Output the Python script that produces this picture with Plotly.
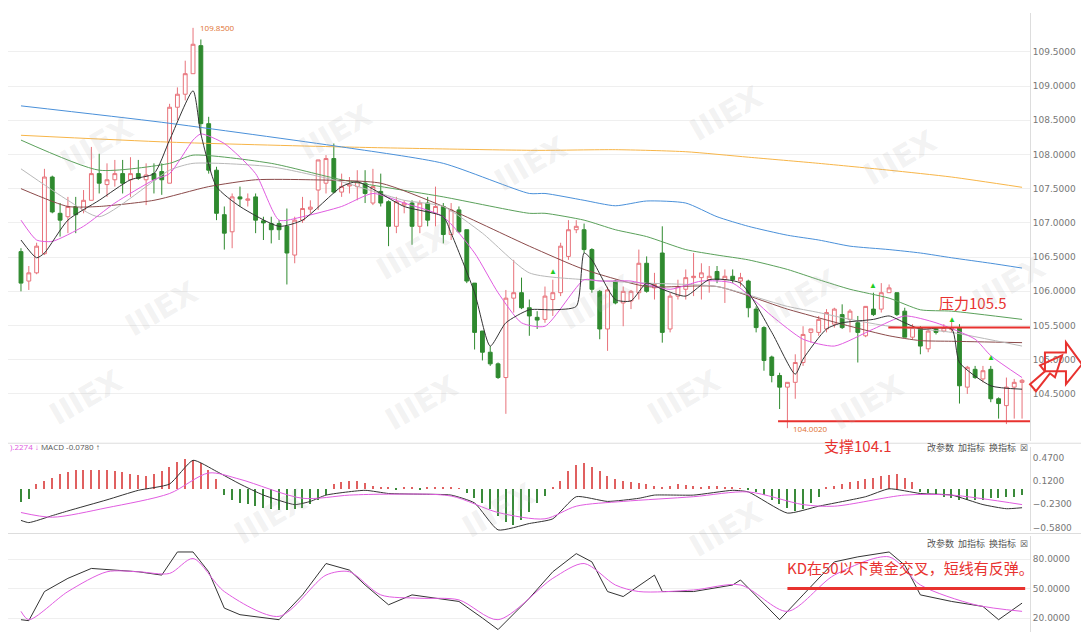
import plotly.graph_objects as go

# ---------------- data ----------------
candles = [  # (open, high, low, close)
(106.58,106.63,106.00,106.12),(106.15,106.37,106.02,106.27),(106.27,106.71,106.25,106.66),(106.55,107.79,106.53,107.67),
(107.67,107.69,107.14,107.16),(107.14,107.29,106.80,107.04),(107.09,107.38,106.85,107.24),(107.24,107.38,106.85,107.12),
(107.19,107.48,107.14,107.33),(107.33,108.11,107.33,107.72),(107.72,108.01,107.43,107.58),(107.56,107.87,107.38,107.63),
(107.63,107.92,107.53,107.72),(107.72,107.92,107.43,107.58),(107.63,107.96,107.38,107.72),(107.72,107.92,107.63,107.65),
(107.63,107.87,107.26,107.70),(107.72,107.87,107.43,107.63),(107.75,107.87,107.41,107.63),(107.58,108.74,107.58,108.69),
(108.69,108.98,108.50,108.88),(108.88,109.37,108.79,109.18),(109.18,109.85,109.18,109.61),(109.59,109.68,108.30,108.45),
(108.45,108.55,107.72,107.77),(107.77,107.82,107.04,107.14),(107.12,107.24,106.61,106.85),(106.87,107.43,106.63,107.38),
(107.38,107.53,107.24,107.35),(107.33,107.43,107.24,107.35),(107.38,107.43,106.85,107.04),(107.03,107.09,106.75,107.00),
(106.99,107.09,106.70,106.90),(106.99,107.04,106.75,106.90),(106.95,107.21,106.10,106.56),(106.53,107.09,106.41,107.04),
(107.04,107.38,107.00,107.21),(107.20,107.33,107.14,107.23),(107.48,107.92,107.19,107.92),(107.58,107.99,107.43,107.94),
(107.94,108.16,107.43,107.45),(107.45,107.72,107.38,107.53),(107.54,107.67,107.43,107.56),(107.53,107.77,107.33,107.60),
(107.58,107.77,107.29,107.43),(107.29,107.79,107.26,107.53),(107.46,107.72,107.24,107.29),(107.31,107.33,106.66,106.95),
(106.95,107.38,106.85,107.31),(107.26,107.33,107.14,107.29),(107.29,107.33,106.68,106.95),(106.95,107.33,106.85,107.29),
(107.29,107.38,106.95,107.04),(107.14,107.53,106.95,107.24),(107.24,107.29,106.70,106.83),(106.83,107.29,106.75,107.19),
(107.19,107.24,106.85,106.87),(106.90,106.90,106.12,106.15),(106.12,106.12,105.15,105.40),(105.42,105.42,104.99,105.11),
(105.11,105.20,104.91,104.94),(104.94,104.96,104.72,104.74),(104.74,106.02,104.21,105.90),(105.90,106.46,105.69,105.98),
(105.98,106.20,105.74,105.76),(105.76,105.88,105.35,105.64),(105.62,105.71,105.45,105.58),(105.59,106.07,105.54,105.93),
(105.88,106.17,105.64,105.98),(105.98,106.71,105.93,106.66),(106.51,107.04,106.46,106.90),(106.90,107.04,106.85,106.95),
(106.90,106.99,106.56,106.61),(106.61,106.63,105.98,106.03),(106.00,106.02,105.30,105.45),(105.45,106.07,105.13,106.02),
(106.15,106.17,105.81,105.83),(105.83,106.07,105.49,106.00),(105.86,106.02,105.74,106.00),(105.98,106.61,105.88,106.41),
(106.41,106.51,105.98,106.00),(106.05,106.27,105.88,106.10),(106.56,106.95,105.25,105.40),(105.45,105.98,105.40,105.93),
(105.93,106.17,105.88,106.07),(106.03,106.32,105.88,106.20),(106.20,106.56,105.93,106.22),(106.20,106.41,105.88,106.27),
(106.17,106.37,105.98,106.22),(106.29,106.37,106.12,106.17),(106.17,106.32,105.83,106.22),(106.22,106.32,106.12,106.17),
(106.15,106.27,106.07,106.20),(106.15,106.17,105.62,105.76),(105.74,105.78,105.40,105.47),(105.47,105.49,104.84,104.99),
(105.04,105.06,104.67,104.77),(104.77,104.81,104.28,104.60),(104.60,104.67,104.00,104.67),(104.67,105.08,104.43,104.96),
(104.96,105.49,104.91,105.37),(105.40,105.45,105.25,105.45),(105.40,105.64,105.35,105.59),(105.45,105.74,105.40,105.69),
(105.52,105.76,105.47,105.74),(105.66,105.81,105.45,105.47),(105.59,105.74,105.40,105.71),(105.54,105.64,104.96,105.40),
(105.35,105.78,105.33,105.78),(105.74,105.98,105.64,105.66),(105.74,106.12,105.69,105.98),(105.98,106.10,105.98,106.05),
(105.98,105.98,105.64,105.66),(105.71,105.76,105.33,105.33),(105.33,105.52,105.30,105.47),(105.47,105.49,105.08,105.20),
(105.16,105.45,105.11,105.42),(105.45,105.47,105.37,105.40),(105.42,105.52,105.40,105.47),(105.44,105.59,105.40,105.46),
(105.47,105.52,104.36,104.62),(104.60,104.91,104.50,104.89),(104.86,104.91,104.72,104.74),(104.72,104.91,104.67,104.84),
(104.86,104.91,104.38,104.43),(104.43,104.45,104.14,104.36),(104.33,104.74,104.06,104.60),(104.60,104.72,104.14,104.67),
(104.67,104.72,104.14,104.70),
]
idx = list(range(1, len(candles) + 1))
opens = [c[0] for c in candles]; highs = [c[1] for c in candles]
lows = [c[2] for c in candles]; closes = [c[3] for c in candles]

ma5_x = [1,3,4,7,11,15,18,20,23,24,26,29,34,37,42,44,50,55,56,59,61,63,66,69,72,73,74,77,79,81,83,86,89,93,97,100,101,104,106,110,112,114,116,120,121,125,129]
ma5_y = [106.75,106.49,106.56,107.04,107.33,107.63,107.72,108.21,108.93,108.30,107.53,107.24,106.95,107.04,107.53,107.60,107.24,107.09,106.85,105.98,105.20,105.54,105.73,105.73,105.78,106.56,106.46,105.88,105.86,106.12,106.03,105.93,106.17,106.12,105.40,104.79,105.01,105.45,105.54,105.59,105.64,105.54,105.45,105.45,104.96,104.62,104.57]
ma10_x = [1,3,5,9,13,18,20,23,24,27,31,34,37,42,46,50,55,59,62,65,68,73,75,79,84,88,92,97,101,105,110,114,118,123,125,129]
ma10_y = [107.04,106.75,106.73,106.95,107.29,107.63,107.72,108.21,108.30,108.16,107.72,107.04,107.09,107.24,107.43,107.29,107.09,106.56,105.98,105.54,105.49,106.17,106.15,106.15,106.03,106.15,106.12,105.64,105.30,105.20,105.45,105.64,105.54,105.30,105.06,104.74]
ma20_x = [1,7,11,20,23,33,42,50,55,60,66,73,81,90,99,103,107,112,116,120,129]
ma20_y = [107.79,107.33,107.09,107.77,107.87,107.82,107.60,107.33,107.24,106.85,106.27,106.17,106.12,106.07,105.78,105.69,105.59,105.49,105.45,105.40,105.20]
ma30_x = [1,7,11,18,25,31,38,47,55,66,73,81,90,99,107,112,116,120,129]
ma30_y = [107.50,107.24,107.24,107.33,107.53,107.63,107.63,107.58,107.24,106.66,106.32,106.07,106.07,105.74,105.49,105.35,105.28,105.27,105.25]
ma60_x = [1,11,20,23,33,42,55,66,68,73,77,81,86,90,94,99,103,107,112,116,120,129]
ma60_y = [108.21,107.77,107.87,107.99,107.87,107.63,107.38,107.14,107.14,107.04,106.90,106.80,106.61,106.53,106.46,106.32,106.17,106.03,105.90,105.73,105.71,105.59]
ma120_x = [1,19,42,55,66,68,73,77,81,86,90,94,99,103,107,112,116,120,125,129]
ma120_y = [108.71,108.47,108.11,107.87,107.43,107.43,107.33,107.25,107.32,107.29,107.09,106.95,106.82,106.75,106.66,106.61,106.56,106.49,106.41,106.34]
ma200_x = [1,20,42,67,77,86,94,103,112,120,129]
ma200_y = [108.28,108.18,108.11,108.06,108.07,108.04,107.96,107.87,107.77,107.67,107.52]

dif_x = [1,2,5,7,12,16,20,23,26,29,32,36,38,40,45,48,52,56,59,62,66,69,72,76,80,82,87,92,94,99,103,109,112,116,120,124,127,129]
dif_y = [-0.473,-0.506,-0.401,-0.33,-0.163,-0.02,0.075,0.432,0.265,0.075,-0.092,-0.235,-0.187,-0.092,-0.02,-0.068,-0.078,-0.092,-0.211,-0.616,-0.52,-0.449,-0.116,-0.187,-0.14,-0.092,-0.092,-0.02,-0.044,-0.363,-0.259,-0.116,0.003,-0.068,-0.092,-0.235,-0.297,-0.282]
dea_x = [1,5,12,20,25,29,37,43,48,56,62,68,72,78,87,94,101,105,114,120,129]
dea_y = [-0.354,-0.425,-0.282,-0.068,0.241,0.146,-0.14,-0.092,-0.078,-0.106,-0.354,-0.449,-0.259,-0.187,-0.116,-0.044,-0.235,-0.259,-0.092,-0.092,-0.235]
macd_hist = [-0.2,-0.15,
 0.076,0.124,0.171,0.219,0.252,0.281,0.281,0.281,0.281,0.281,0.267,0.252,0.229,0.21,0.195,0.219,0.267,0.338,0.41,0.457,0.433,0.386,0.29,0.148,
 -0.09,-0.162,-0.21,-0.233,-0.257,-0.281,-0.305,-0.314,-0.314,-0.305,-0.281,-0.233,-0.162,-0.09,
 0.071,0.1,0.114,0.114,0.086,0.052,0.029,
 0.02,-0.02,0.015,0.02,-0.015,0.02,0.025,0.02,0.015,0.01,
 -0.067,-0.138,-0.21,-0.305,-0.4,-0.495,-0.543,-0.471,-0.352,-0.21,
 -0.1,0.03,
 0.124,0.267,0.362,0.386,0.338,0.267,0.195,0.148,0.124,0.1,0.086,0.076,0.052,
 0.03,0.05,0.08,0.06,0.04,0.03,0.05,0.04,0.03,0.02,0.01,-0.02,-0.04,
 -0.09,-0.162,-0.233,-0.281,-0.329,-0.305,-0.21,-0.114,
 0.029,0.052,0.076,0.1,0.124,0.148,0.171,0.195,0.21,0.219,0.171,0.1,
 -0.043,-0.067,-0.09,-0.114,-0.138,-0.162,-0.162,-0.162,-0.162,-0.138,-0.138,-0.114,-0.114,-0.09]

k_x = [1,2,4,7,10,13,16,19,21,23,25,27,29,34,37,40,43,45,48,51,54,57,60,62,66,69,72,74,76,78,82,83,87,92,93,98,101,105,108,112,114,116,120,124,126,129]
k_y = [18.3,17.3,47.0,60.5,70.6,68.9,67.2,63.8,87.4,87.4,67.2,30.1,23.4,18.3,43.6,75.6,68.9,53.7,33.5,43.6,40.2,36.9,20.0,8.2,40.2,67.2,85.7,77.3,47.0,41.9,63.8,47.0,47.0,53.7,58.8,18.3,43.6,77.3,82.4,87.4,73.9,43.6,36.9,31.8,18.3,35.2]
d_x = [1,2,7,12,16,20,23,27,34,40,43,47,52,57,62,69,73,77,80,87,93,99,105,112,116,123,129]
d_y = [26.8,18.3,47.0,67.2,67.2,65.5,80.7,47.0,21.7,63.8,67.2,43.6,40.2,38.5,18.3,60.5,75.6,53.7,47.0,48.6,53.7,26.8,63.8,82.4,53.7,33.5,26.8]

price_ticks = [104.5,105.0,105.5,106.0,106.5,107.0,107.5,108.0,108.5,109.0,109.5]
macd_ticks = [0.47,0.12,-0.23,-0.58]
kd_ticks = [20,50,80]
resistance = 105.47
support = 104.1

# ---------------- figure ----------------
fig = go.Figure()
fig.add_trace(go.Candlestick(
    x=idx, open=opens, high=highs, low=lows, close=closes,
    increasing=dict(line=dict(color="#e8727a", width=1), fillcolor="#ffffff"),
    decreasing=dict(line=dict(color="#2f8a2f", width=1), fillcolor="#2f8a2f"),
    whiskerwidth=0, xaxis="x", yaxis="y", showlegend=False, hoverinfo="skip"))

for xs, ys, col in [(ma200_x, ma200_y, "#f7b548"), (ma120_x, ma120_y, "#4a90d9"),
                    (ma60_x, ma60_y, "#5aa05a"), (ma30_x, ma30_y, "#8b4a4a"),
                    (ma20_x, ma20_y, "#b8b8b8"), (ma10_x, ma10_y, "#e05ce0"),
                    (ma5_x, ma5_y, "#333333")]:
    fig.add_trace(go.Scatter(x=xs, y=ys, mode="lines", line=dict(color=col, width=1, shape="spline", smoothing=0.6),
                             xaxis="x", yaxis="y", showlegend=False, hoverinfo="skip"))

fig.add_trace(go.Bar(x=idx, y=macd_hist, width=0.18,
                     marker=dict(color=["#e06060" if v >= 0 else "#3a8a3a" for v in macd_hist], line=dict(width=0)),
                     xaxis="x2", yaxis="y2", showlegend=False, hoverinfo="skip"))
fig.add_trace(go.Scatter(x=dif_x, y=dif_y, mode="lines", line=dict(color="#333", width=1, shape="spline", smoothing=0.5),
                         xaxis="x2", yaxis="y2", showlegend=False))
fig.add_trace(go.Scatter(x=dea_x, y=dea_y, mode="lines", line=dict(color="#e05ce0", width=1, shape="spline", smoothing=0.8),
                         xaxis="x2", yaxis="y2", showlegend=False))
fig.add_trace(go.Scatter(x=k_x, y=k_y, mode="lines", line=dict(color="#333", width=1),
                         xaxis="x3", yaxis="y3", showlegend=False))
fig.add_trace(go.Scatter(x=d_x, y=d_y, mode="lines", line=dict(color="#e05ce0", width=1, shape="spline", smoothing=0.8),
                         xaxis="x3", yaxis="y3", showlegend=False))

xr = [-0.66, 130.02]
ax_common = dict(range=xr, showgrid=False, showticklabels=False, zeroline=False, domain=[0.0, 0.9385],
                 showline=False, fixedrange=True)
tickfont = dict(family="DejaVu Sans", size=9, color="#777")
fig.update_layout(
    width=1089, height=639, margin=dict(l=0, r=0, t=5, b=5),
    paper_bgcolor="white", plot_bgcolor="white", bargap=0,
    xaxis=dict(**ax_common, anchor="y", rangeslider=dict(visible=False)),
    xaxis2=dict(**ax_common, anchor="y2", matches="x"),
    xaxis3=dict(**ax_common, anchor="y3", matches="x"),
    yaxis=dict(domain=[0.320, 1.0], range=[103.817, 110.067], side="right", tickvals=price_ticks,
               ticktext=[f"{v:.4f}" for v in price_ticks], tickfont=tickfont, gridcolor="#efefef",
               zeroline=False, showline=True, linecolor="#dddddd", ticks="", anchor="x"),
    yaxis2=dict(domain=[0.176, 0.310], range=[-0.637, 0.632], side="right", tickvals=macd_ticks,
                ticktext=[f"{v:.4f}".replace("-", "−") for v in macd_ticks], tickfont=tickfont,
                showgrid=False, zeroline=False, showline=True, linecolor="#dddddd", anchor="x2"),
    yaxis3=dict(domain=[0.016, 0.169], range=[5.8, 104.0], side="right", tickvals=kd_ticks,
                ticktext=[f"{v:.4f}" for v in kd_ticks], tickfont=tickfont, gridcolor="#efefef",
                zeroline=False, showline=True, linecolor="#dddddd", anchor="x3"),
)

shapes = []
for yv in [0.316, 0.1725]:
    shapes.append(dict(type="line", xref="paper", yref="paper", x0=0, x1=1, y0=yv, y1=yv,
                       line=dict(color="#dddddd", width=1)))
shapes.append(dict(type="line", xref="x", yref="y", x0=111.9, x1=130.02, y0=resistance, y1=resistance,
                   line=dict(color="#e8322f", width=2)))
shapes.append(dict(type="line", xref="x", yref="y", x0=97.8, x1=130.02, y0=support, y1=support,
                   line=dict(color="#e8322f", width=2)))
shapes.append(dict(type="line", xref="x3", yref="y3", x0=99, x1=129.4, y0=50, y1=50,
                   line=dict(color="#e8322f", width=3)))
shapes.append(dict(type="path", xref="paper", yref="paper",
                   path="M 0.9522,0.4604 L 0.9715,0.4604 L 0.9715,0.4763 L 0.9862,0.4415 L 0.9715,0.4098 L 0.9715,0.4304 L 0.9522,0.4304 Z",
                   line=dict(color="#e8322f", width=2), fillcolor="rgba(0,0,0,0)"))
shapes.append(dict(type="path", xref="paper", yref="paper",
                   path="M 0.9385,0.4098 L 0.9522,0.4304 L 0.9477,0.4399 L 0.9679,0.4557 L 0.9614,0.4209 L 0.9568,0.4272 L 0.9440,0.3987 Z",
                   line=dict(color="#e8322f", width=2), fillcolor="rgba(0,0,0,0)"))
fig.update_layout(shapes=shapes)

ann = [
    dict(x=23.6, y=109.85, xref="x", yref="y", text="109.8500", showarrow=False, xanchor="left",
         font=dict(size=8, color="#e07030")),
    dict(x=99.4, y=104.0, xref="x", yref="y", text="104.0020", showarrow=False, xanchor="left",
         font=dict(size=8, color="#e07030")),
    dict(x=0.853, y=0.540, xref="paper", yref="paper", text="压力105.5", showarrow=False, xanchor="left",
         font=dict(size=15, color="#e8322f", family="Noto Sans CJK SC")),
    dict(x=0.7475, y=0.292, xref="paper", yref="paper", text="支撑104.1", showarrow=False, xanchor="left",
         font=dict(size=15, color="#e8322f", family="Noto Sans CJK SC")),
    dict(x=0.7135, y=0.098, xref="paper", yref="paper", text="KD在50以下黄金交叉，短线有反弹。", showarrow=False,
         xanchor="left", font=dict(size=15, color="#e8322f", family="Noto Sans CJK SC")),
    dict(x=0.0, y=0.311, xref="paper", yref="paper", text="<span style='color:#e05ce0'>).2274 ↓</span> MACD -0.0780 ↑",
         showarrow=False, xanchor="left", yanchor="middle", font=dict(size=8, color="#555")),
]
for yy in [0.3085, 0.1566]:
    ann.append(dict(x=0.9385, y=yy, xref="paper", yref="paper", text="改参数  加指标  换指标  ☒", showarrow=False,
                    xanchor="right", yanchor="middle", font=dict(size=9, color="#555", family="Noto Sans CJK SC")))
for gi, gy in [(69, 106.3), (110, 106.1), (120, 105.6), (125, 105.05)]:
    ann.append(dict(x=gi, y=gy, xref="x", yref="y", text="▲", showarrow=False, font=dict(size=8, color="#22cc22")))
for wx, wy in [(0.04, 0.85), (0.26, 0.87), (0.48, 0.82), (0.70, 0.90), (0.86, 0.83), (0.10, 0.53),
               (0.33, 0.62), (0.54, 0.54), (0.77, 0.55), (0.38, 0.38), (0.62, 0.33), (0.83, 0.38),
               (0.03, 0.33), (0.20, 0.14), (0.45, 0.15), (0.70, 0.12), (0.96, 0.57)]:
    ann.append(dict(x=wx, y=wy, xref="paper", yref="paper", text="<b>IIIEX</b>", showarrow=False, textangle=-30,
                    font=dict(size=30, color="rgba(180,180,180,0.18)", family="DejaVu Sans")))
fig.update_layout(annotations=ann)

fig.write_html("out.html")
